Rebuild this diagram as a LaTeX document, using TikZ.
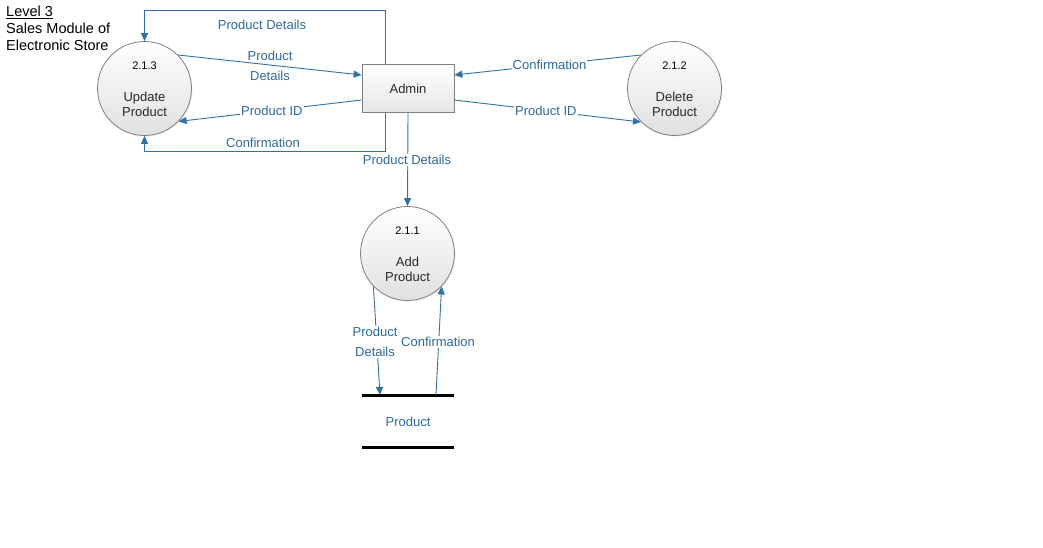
\documentclass[tikz,border=0pt]{standalone}
\usepackage{fontspec}
\setmainfont{Liberation Sans}
\usetikzlibrary{arrows.meta,shadows}
\definecolor{flow}{RGB}{46,114,168}
\definecolor{flowtext}{RGB}{44,106,160}
\definecolor{edge}{RGB}{128,128,128}
\definecolor{ink}{RGB}{40,40,40}
\tikzset{
  proc/.style={circle,draw=edge,line width=0.8pt,minimum size=94pt,inner sep=0pt,
    top color=white,bottom color=black!12,drop shadow={shadow xshift=1pt,shadow yshift=-1pt,opacity=0.15},
    font=\fontsize{13}{15}\selectfont,align=center},
  entity/.style={rectangle,draw=edge,line width=0.8pt,minimum width=92pt,minimum height=48pt,
    top color=white,bottom color=black!10,drop shadow={shadow xshift=1pt,shadow yshift=-1pt,opacity=0.15},
    font=\fontsize{13}{15}\selectfont,text=ink},
  flowline/.style={draw=flow,line width=0.9pt,-{Triangle[length=8pt,width=7pt]}},
  lbl/.style={text=flowtext,font=\fontsize{13}{20}\selectfont,inner sep=1pt,align=center},
  lblw/.style={lbl,fill=white},
  num/.style={font=\fontsize{11}{12}\selectfont},
  ptext/.style={font=\fontsize{13}{15}\selectfont,align=center,text=ink},
  storeline/.style={line width=3pt,black}
}
\begin{document}
\begin{tikzpicture}[x=1pt,y=-1pt]
\useasboundingbox (0,0) rectangle (1043,548);
% title
\node[anchor=north west,align=left,inner sep=0pt,font=\fontsize{14.5}{16.8}\selectfont] (title) at (6,6)
  {\underline{Level 3}\\Sales Module of\\Electronic Store};
% nodes
\node[proc] (p213) at (144.5,88.5) {};
\node[num] (n213) at (144.5,66) {2.1.3};
\node[ptext] (t213) at (144.5,104.5) {Update\\Product};
\node[proc] (p212) at (674.5,88.5) {};
\node[num] (n212) at (674.5,66) {2.1.2};
\node[ptext] (t212) at (674.5,104.5) {Delete\\Product};
\node[proc] (p211) at (407.5,253.5) {};
\node[num] (n211) at (407.5,231) {2.1.1};
\node[ptext] (t211) at (407.5,269.5) {Add\\Product};
\node[entity] (admin) at (408,88.5) {Admin};
% data store
\coordinate (s1a) at (362,395); \coordinate (s1b) at (454,395);
\coordinate (s2a) at (362,447); \coordinate (s2b) at (454,447);
\draw[storeline] (s1a) -- (s1b);
\draw[storeline] (s2a) -- (s2b);
\node[lbl] (store) at (408,422) {Product};
% coordinates for bends
\coordinate (c1) at (385,10);
\coordinate (c2) at (144.5,10);
\coordinate (c3) at (385,151);
\coordinate (c4) at (144.5,151);
% flows
\draw[flowline] (admin.north -| c1) -- (c1) -- (c2) -- (p213.north);
\node[lbl] (l1) at (262,25) {Product Details};
\draw[flowline] (p213.45) -- (admin.west |- 0,75);
\node[lbl] (l2) at (270,66) {Product\\Details};
\draw[flowline] (admin.west |- 0,100) -- node[lblw,pos=0.49] (l3) {Product ID} (p213.-44);
\draw[flowline] (admin.south -| c3) -- (c3) -- (c4) -- (p213.south);
\node[lbl] (l4) at (263,143) {Confirmation};
\draw[flowline] (admin.south) -- (p211.north);
\node[lblw] (l5) at (407,160) {Product Details};
\draw[flowline] (p212.135) -- node[lblw,pos=0.49] (l6) {Confirmation} (admin.east |- 0,75);
\draw[flowline] (admin.east |- 0,100) -- node[lblw,pos=0.49] (l7) {Product ID} (p212.-135);
\draw[flowline] (p211.-136) -- (380,395);
\node[lblw] (l8) at (375,342) {Product\\Details};
\draw[flowline] (436,395) -- (p211.-44);
\node[lblw] (l9) at (438,342) {Confirmation};
\end{tikzpicture}
\end{document}
